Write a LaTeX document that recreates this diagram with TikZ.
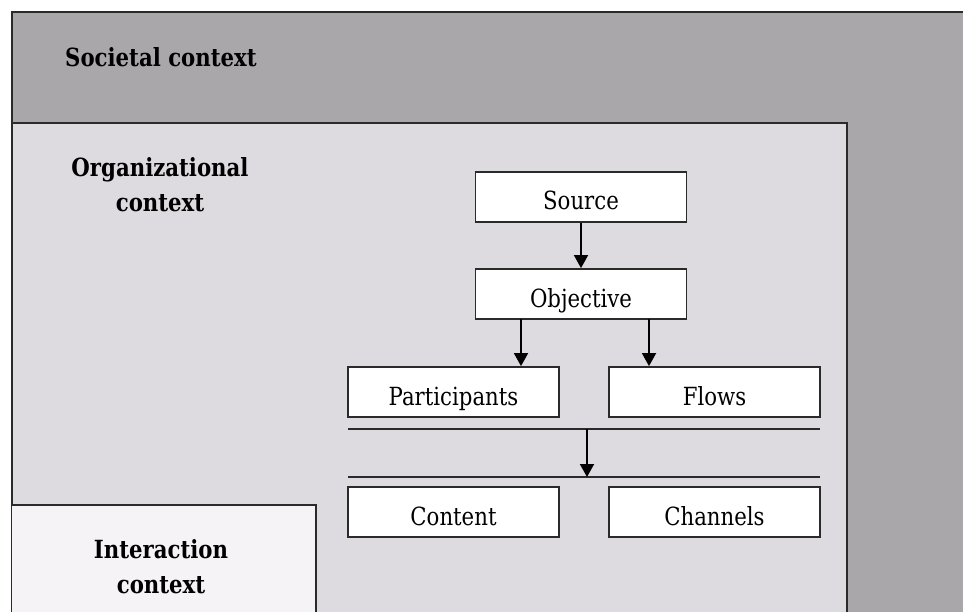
\documentclass[tikz,border=0pt]{standalone}
\usepackage{fontspec}
\setmainfont{DejaVu Serif}[FakeStretch=0.85]
\usetikzlibrary{arrows.meta}
\definecolor{soc}{HTML}{AAA7AB}
\definecolor{org}{HTML}{DDDBDF}
\definecolor{inter}{HTML}{F6F3F6}
\definecolor{edge}{HTML}{2A2A2A}
\begin{document}
\begin{tikzpicture}[x=1pt,y=-1pt,
  ctx/.style={draw=edge,line width=1.8pt},
  boxnode/.style={draw=edge,fill=white,line width=1.8pt,minimum width=211pt,minimum height=50pt,inner sep=0pt,text height=32pt,text depth=6pt,font=\fontsize{25}{30}\selectfont},
  lbl/.style={font=\bfseries\fontsize{25}{35}\selectfont,align=center,inner sep=0pt},
  arr/.style={line width=1.8pt,draw=black,-{Triangle[length=13pt,width=14pt]}},
  sep/.style={line width=1.8pt,draw=edge}]
\useasboundingbox (0,0) rectangle (963,612);
\fill[white] (0,0) rectangle (963,612);
\fill[soc] (12,12) rectangle (963,612);
\draw[ctx] (963,12) -- (12,12) -- (12,612);
\fill[org] (12,123) rectangle (847,612);
\draw[ctx] (12,612) -- (12,123) -- (847,123) -- (847,612);
\fill[inter] (12,505) rectangle (316,612);
\draw[ctx] (12,505) -- (316,505) -- (316,612);
\node[lbl,anchor=base west] (soclbl) at (65,67) {Societal context};
\node[lbl,anchor=base] (orglbl) at (160,212) {Organizational\\context};
\node[lbl,anchor=base] (intlbl) at (161,593) {Interaction\\context};
\node[boxnode] (source) at (581,197) {Source};
\node[boxnode] (objective) at (581,294) {Objective};
\node[boxnode] (participants) at (453.5,392) {Participants};
\node[boxnode] (flows) at (714.5,392) {Flows};
\node[boxnode] (content) at (453.5,512) {Content};
\node[boxnode] (channels) at (714.5,512) {Channels};
\coordinate (l1a) at (348,429); \coordinate (l1b) at (820,429);
\coordinate (l2a) at (348,477); \coordinate (l2b) at (820,477);
\draw[sep] (l1a) -- (l1b);
\draw[sep] (l2a) -- (l2b);
\coordinate (mtop) at (587,429); \coordinate (mbot) at (587,477);
\coordinate (o1) at (521,319); \coordinate (o2) at (649,319);
\draw[arr] (source) -- (objective);
\draw[arr] (o1) -- (o1 |- participants.north);
\draw[arr] (o2) -- (o2 |- flows.north);
\draw[arr] (mtop) -- (mbot);
\end{tikzpicture}
\end{document}
